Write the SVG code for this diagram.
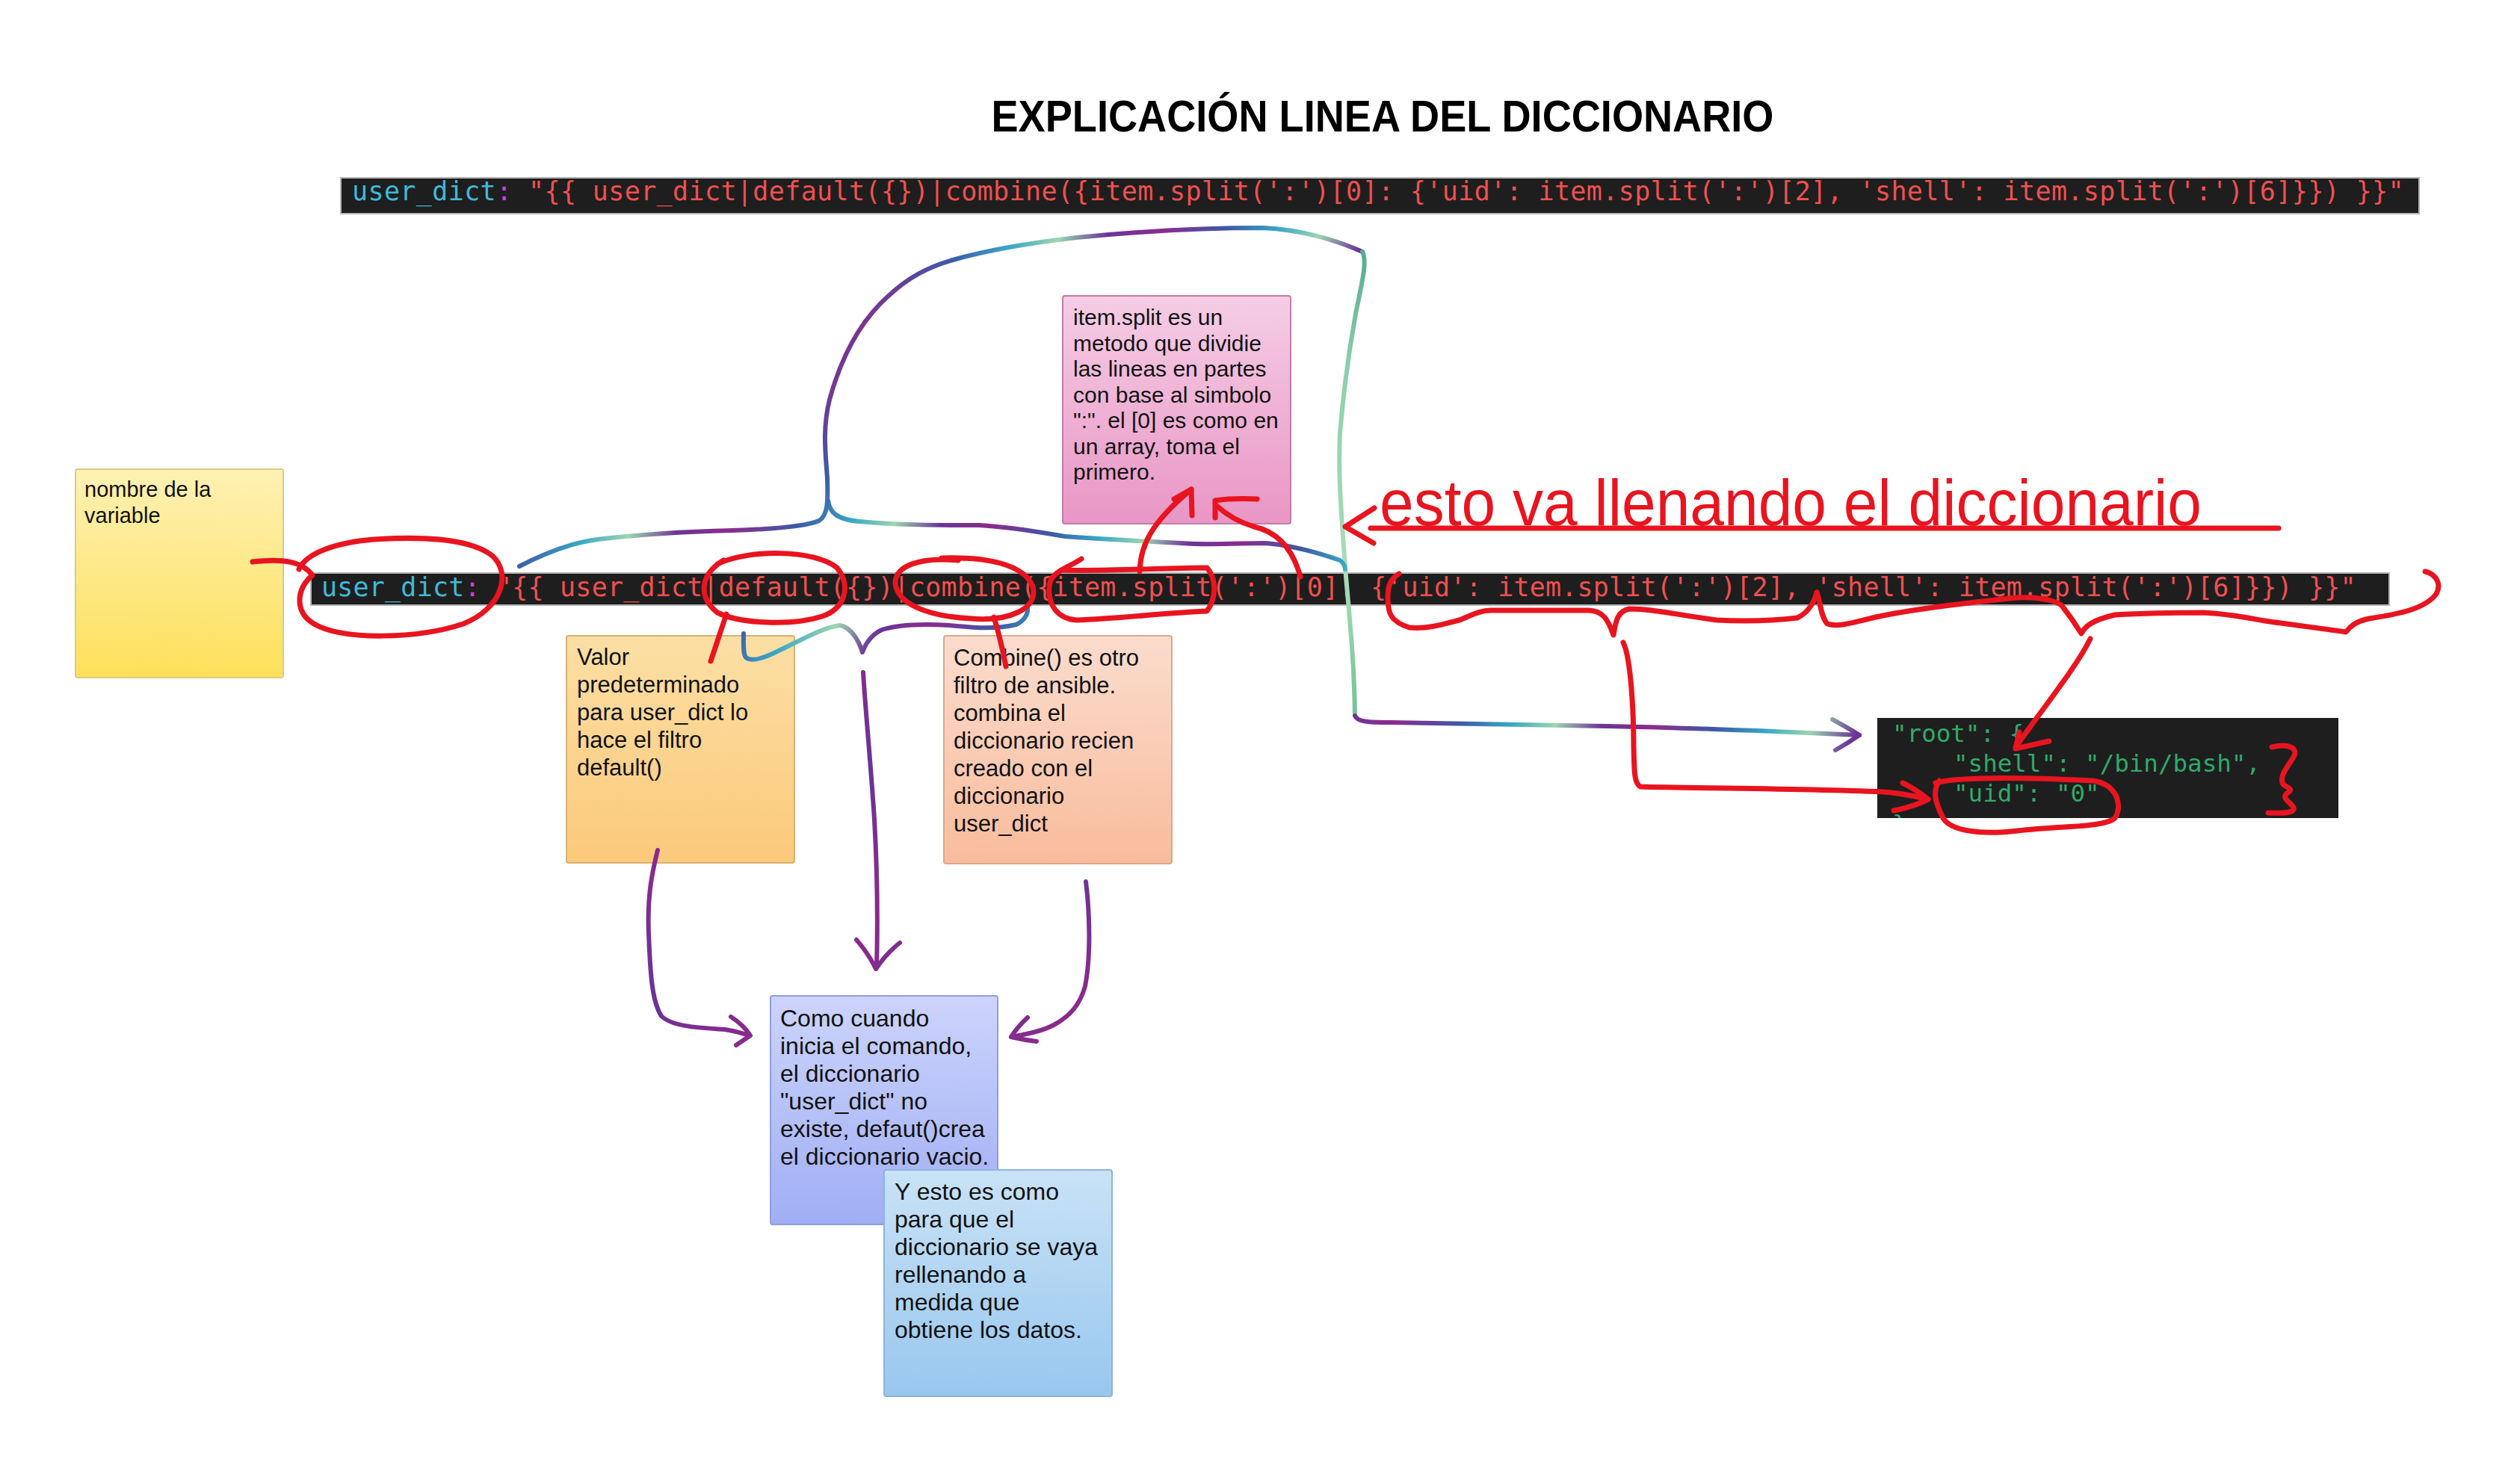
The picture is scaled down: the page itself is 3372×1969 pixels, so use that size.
<svg xmlns="http://www.w3.org/2000/svg" width="3372" height="1969" viewBox="0 0 3372 1969">
<defs>
<linearGradient id="gYellow" x1="0" y1="0" x2="0" y2="1"><stop offset="0" stop-color="#fef1b3"/><stop offset="1" stop-color="#fde05a"/></linearGradient>
<linearGradient id="gPink" x1="0" y1="0" x2="0" y2="1"><stop offset="0" stop-color="#f5cde5"/><stop offset="1" stop-color="#e996c5"/></linearGradient>
<linearGradient id="gOrange" x1="0" y1="0" x2="0" y2="1"><stop offset="0" stop-color="#fcdfa5"/><stop offset="1" stop-color="#fbc97a"/></linearGradient>
<linearGradient id="gPeach" x1="0" y1="0" x2="0" y2="1"><stop offset="0" stop-color="#fbdccd"/><stop offset="1" stop-color="#f8bc9c"/></linearGradient>
<linearGradient id="gViolet" x1="0" y1="0" x2="0" y2="1"><stop offset="0" stop-color="#ccd4fb"/><stop offset="1" stop-color="#a0aef5"/></linearGradient>
<linearGradient id="gBlue" x1="0" y1="0" x2="0" y2="1"><stop offset="0" stop-color="#c9e2f6"/><stop offset="1" stop-color="#98c7ee"/></linearGradient>
<linearGradient id="rb" gradientUnits="userSpaceOnUse" x1="0" y1="0" x2="260" y2="150" spreadMethod="repeat">
<stop offset="0" stop-color="#8a2b8c"/><stop offset="0.25" stop-color="#3c5aa8"/><stop offset="0.45" stop-color="#3aa8c4"/><stop offset="0.62" stop-color="#9dd5b0"/><stop offset="0.8" stop-color="#6b3598"/><stop offset="1" stop-color="#8a2b8c"/>
</linearGradient>
<linearGradient id="pu" gradientUnits="userSpaceOnUse" x1="0" y1="0" x2="200" y2="200" spreadMethod="repeat">
<stop offset="0" stop-color="#8c2a8b"/><stop offset="0.5" stop-color="#6a3399"/><stop offset="1" stop-color="#8c2a8b"/>
</linearGradient>
<linearGradient id="mint" gradientUnits="userSpaceOnUse" x1="0" y1="300" x2="0" y2="970">
<stop offset="0" stop-color="#4aa48a"/><stop offset="0.3" stop-color="#8fd0ad"/><stop offset="0.7" stop-color="#a9dcb9"/><stop offset="1" stop-color="#6fbf98"/>
</linearGradient>
<clipPath id="outClip"><rect x="2512" y="961" width="617" height="134"/></clipPath>
<style>
.note{font-family:"Liberation Sans",Arial,sans-serif;fill:#111;}
.code{font-family:"DejaVu Sans Mono","Liberation Mono",monospace;font-size:35px;}
.cy{fill:#3fb9d9;} .mg{fill:#d63cd6;} .rd{fill:#f0504f;}
.out{font-family:"DejaVu Sans Mono","Liberation Mono",monospace;font-size:32.5px;fill:#2faa6a;white-space:pre;}
.red{fill:none;stroke:#e8141f;stroke-width:7;stroke-linecap:round;stroke-linejoin:round;}
.rain{fill:none;stroke:url(#rb);stroke-width:6;stroke-linecap:round;stroke-linejoin:round;}
.purp{fill:none;stroke:url(#pu);stroke-width:6;stroke-linecap:round;stroke-linejoin:round;}
.mnt{fill:none;stroke:url(#mint);stroke-width:6;stroke-linecap:round;stroke-linejoin:round;}
</style>
</defs>
<rect width="3372" height="1969" fill="#ffffff"/>

<g id="title">
<text x="1850" y="176" text-anchor="middle" font-family="Liberation Sans, Arial, sans-serif" font-weight="bold" font-size="60" textLength="1047" lengthAdjust="spacingAndGlyphs" fill="#000">EXPLICACIÓN LINEA DEL DICCIONARIO</text>
</g>

<g id="code-top">
<rect x="456" y="238" width="2781" height="48" fill="#1e1e1e" stroke="#b5b5b5" stroke-width="2"/>
<text class="code" x="471" y="268" letter-spacing="0.38" xml:space="preserve"><tspan class="cy">user_dict</tspan><tspan class="mg">:</tspan><tspan class="rd"> "{{ user_dict|default({})|combine({item.split(':')[0]: {'uid': item.split(':')[2], 'shell': item.split(':')[6]}}) }}"</tspan></text>
</g>

<g id="code-main">
<rect x="416" y="767" width="2781" height="43" fill="#1e1e1e" stroke="#b5b5b5" stroke-width="2"/>
<text class="code" x="430" y="798" letter-spacing="0.2" xml:space="preserve"><tspan class="cy">user_dict</tspan><tspan class="mg">:</tspan><tspan class="rd"> "{{ user_dict|default({})|combine({item.split(':')[0]: {'uid': item.split(':')[2], 'shell': item.split(':')[6]}}) }}"</tspan></text>
</g>

<g id="code-output">
<rect x="2512" y="961" width="617" height="134" fill="#1e1e1e"/>
<g clip-path="url(#outClip)">
<text class="out" x="2532" y="993">"root": {</text>
<text class="out" x="2614" y="1033">"shell": "/bin/bash",</text>
<text class="out" x="2614" y="1073">"uid": "0"</text>
<text class="out" x="2532" y="1114">}</text>
</g>
</g>

<g id="note-variable">
<rect x="101" y="628" width="278" height="279" rx="3" fill="url(#gYellow)" stroke="#dccb86" stroke-width="2"/>
<text class="note" font-size="29"><tspan x="113" y="665">nombre de la</tspan><tspan x="113" y="700">variable</tspan></text>
</g>

<g id="note-split">
<rect x="1422" y="396" width="305" height="305" rx="3" fill="url(#gPink)" stroke="#c27ba6" stroke-width="2"/>
<text class="note" font-size="30"><tspan x="1436" y="435">item.split es un</tspan><tspan x="1436" y="469.5">metodo que dividie</tspan><tspan x="1436" y="504">las lineas en partes</tspan><tspan x="1436" y="538.5">con base al simbolo</tspan><tspan x="1436" y="573">":". el [0] es como en</tspan><tspan x="1436" y="607.5">un array, toma el</tspan><tspan x="1436" y="642">primero.</tspan></text>
</g>

<g id="note-default">
<rect x="758" y="851" width="305" height="304" rx="3" fill="url(#gOrange)" stroke="#d8b273" stroke-width="2"/>
<text class="note" font-size="31"><tspan x="772" y="890">Valor</tspan><tspan x="772" y="927">predeterminado</tspan><tspan x="772" y="964">para user_dict lo</tspan><tspan x="772" y="1001">hace el filtro</tspan><tspan x="772" y="1038">default()</tspan></text>
</g>

<g id="note-combine">
<rect x="1263" y="851" width="305" height="305" rx="3" fill="url(#gPeach)" stroke="#dba990" stroke-width="2"/>
<text class="note" font-size="31"><tspan x="1276" y="891">Combine() es otro</tspan><tspan x="1276" y="928">filtro de ansible.</tspan><tspan x="1276" y="965">combina el</tspan><tspan x="1276" y="1002">diccionario recien</tspan><tspan x="1276" y="1039">creado con el</tspan><tspan x="1276" y="1076">diccionario</tspan><tspan x="1276" y="1113">user_dict</tspan></text>
</g>

<g id="note-empty">
<rect x="1031" y="1333" width="304" height="306" rx="3" fill="url(#gViolet)" stroke="#8f9fd8" stroke-width="2"/>
<text class="note" font-size="32"><tspan x="1044" y="1374">Como cuando</tspan><tspan x="1044" y="1411">inicia el comando,</tspan><tspan x="1044" y="1448">el diccionario</tspan><tspan x="1044" y="1485">"user_dict" no</tspan><tspan x="1044" y="1522">existe, defaut()crea</tspan><tspan x="1044" y="1559">el diccionario vacio.</tspan></text>
</g>

<g id="note-fill">
<rect x="1183" y="1566" width="305" height="303" rx="3" fill="url(#gBlue)" stroke="#8db5dc" stroke-width="2"/>
<text class="note" font-size="32"><tspan x="1197" y="1606">Y esto es como</tspan><tspan x="1197" y="1643">para que el</tspan><tspan x="1197" y="1680">diccionario se vaya</tspan><tspan x="1197" y="1717">rellenando a</tspan><tspan x="1197" y="1754">medida que</tspan><tspan x="1197" y="1791">obtiene los datos.</tspan></text>
</g>

<g id="note-handwritten">
<text x="1846" y="703" font-family="Liberation Sans, Arial, sans-serif" font-size="88" textLength="1100" lengthAdjust="spacingAndGlyphs" fill="#e8141f">esto va llenando el diccionario</text>
</g>

<g id="connectors">
<path class="rain" d="M695,758 C720,745 760,727 800,722 C850,716 900,712 980,710 C1040,708 1080,704 1096,697 C1108,690 1108,670 1107,640 C1105,610 1100,575 1110,535 C1125,480 1150,430 1190,395 C1215,372 1240,358 1275,348 C1320,335 1380,325 1440,318 C1520,310 1600,305 1690,305 C1740,307 1790,322 1823,337"/>
<path class="mnt" d="M1823,337 C1830,350 1822,380 1814,420 C1805,470 1798,520 1793,580 C1790,640 1796,700 1800,760 C1805,820 1812,880 1813,958"/>
<path class="rain" d="M1108,670 C1110,685 1118,695 1150,698 C1200,703 1260,703 1310,703 C1350,705 1390,712 1425,718 C1480,722 1540,725 1580,727 C1620,730 1660,727 1693,727 C1730,730 1770,742 1793,750 C1798,754 1800,758 1800,762"/>
<path class="rain" d="M1813,958 C1816,966 1830,967 1860,967 C1950,968 2050,971 2150,972 C2250,974 2350,978 2420,981 L2488,984"/>
<path class="rain" d="M2452,963 Q2474,975 2488,984 Q2472,995 2456,1004"/>
<path class="rain" d="M995,848 C995,860 994,875 998,880 C1005,886 1020,882 1040,872 C1070,858 1100,840 1124,837 C1140,840 1150,860 1154,873 C1158,862 1165,850 1180,843 C1205,835 1240,835 1270,837 C1300,840 1330,843 1360,836 C1372,830 1376,822 1375,812"/>
<path class="purp" d="M1155,900 C1158,950 1165,1020 1170,1097 C1173,1150 1175,1220 1173,1293"/>
<path class="purp" d="M1146,1258 Q1162,1276 1172,1297 Q1186,1276 1204,1262"/>
<path class="purp" d="M880,1138 C872,1170 866,1200 868,1250 C870,1300 872,1340 885,1360 C900,1375 940,1376 970,1378 C985,1380 995,1384 1003,1386"/>
<path class="purp" d="M978,1361 Q995,1372 1004,1386 Q994,1393 985,1399"/>
<path class="purp" d="M1453,1180 C1458,1220 1460,1280 1452,1320 C1445,1345 1432,1360 1410,1372 C1395,1380 1375,1384 1353,1388"/>
<path class="purp" d="M1375,1362 Q1361,1375 1353,1388 Q1370,1392 1387,1394"/>
<path class="red" d="M338,752 C380,747 405,752 418,770 C395,790 395,820 420,835 C460,858 560,855 620,835 C670,815 685,770 660,745 C630,720 560,718 500,722 C450,726 410,740 400,762"/>
<path class="red" d="M960,755 C1000,735 1090,735 1120,760 C1140,785 1130,815 1100,825 C1060,838 990,835 960,820 C935,800 935,770 968,750"/>
<path class="red" d="M972,822 Q962,852 951,885"/>
<path class="red" d="M1260,747 C1320,745 1370,755 1382,785 C1390,815 1350,832 1300,828 C1240,825 1200,808 1198,780 C1198,758 1230,745 1282,750"/>
<path class="red" d="M1330,826 Q1340,860 1346,892"/>
<path class="red" d="M1447,748 C1430,760 1405,765 1404,785 C1402,810 1415,828 1440,830 C1500,828 1560,820 1615,818 C1628,800 1628,775 1615,760 C1560,760 1480,765 1420,763"/>
<path class="red" d="M1525,765 C1526,730 1540,700 1594,655"/>
<path class="red" d="M1571,668 L1594,655 L1595,690"/>
<path class="red" d="M1740,772 C1730,735 1710,712 1678,705 C1655,698 1640,688 1628,677"/>
<path class="red" d="M1682,668 C1660,667 1640,668 1626,670 L1626,693"/>
<path class="red" d="M1872,768 C1860,775 1857,785 1857,800 C1857,820 1860,832 1886,840 C1910,842 1930,836 1953,830 C1970,823 1980,817 1995,817 L2125,817 C2145,817 2152,830 2159,850 C2162,830 2165,818 2180,815 C2210,815 2240,822 2297,830 C2340,832 2380,830 2405,827 C2420,820 2428,805 2431,793"/>
<path class="red" d="M2431,793 C2436,805 2436,825 2445,835 C2460,840 2480,833 2510,826 C2560,815 2640,806 2699,800 C2730,798 2755,805 2760,812 C2770,825 2780,840 2785,848 C2790,838 2800,830 2830,823 C2880,820 2920,820 2948,820 C2990,822 3020,830 3044,833 C3080,838 3120,843 3139,846 C3145,838 3152,832 3170,828 C3210,822 3245,815 3260,795 C3268,780 3258,768 3245,765"/>
<path class="red" d="M2172,860 C2182,880 2186,950 2186,1000 C2187,1030 2186,1048 2195,1053 C2250,1055 2400,1055 2520,1060 C2545,1062 2565,1066 2580,1070"/>
<path class="red" d="M2546,1048 Q2566,1058 2580,1070 Q2560,1080 2534,1085"/>
<path class="red" d="M2797,855 C2780,890 2740,940 2697,1000"/>
<path class="red" d="M2702,980 L2697,1002 L2742,992"/>
<path class="red" d="M2590,1048 C2620,1040 2700,1040 2800,1045 C2835,1050 2840,1080 2830,1095 C2815,1108 2760,1105 2700,1112 C2650,1118 2610,1112 2600,1095 C2590,1075 2585,1060 2595,1045"/>
<path class="red" d="M3040,1000 C3060,995 3078,1000 3068,1015 C3058,1030 3050,1040 3055,1050 C3062,1055 3070,1056 3060,1062 C3050,1070 3075,1078 3068,1085 C3060,1090 3045,1088 3035,1088"/>
<path class="red" d="M1839,680 L1800,705 L1838,727"/>
<path class="red" d="M1834,707 L3049,707"/>
</g>
</svg>
